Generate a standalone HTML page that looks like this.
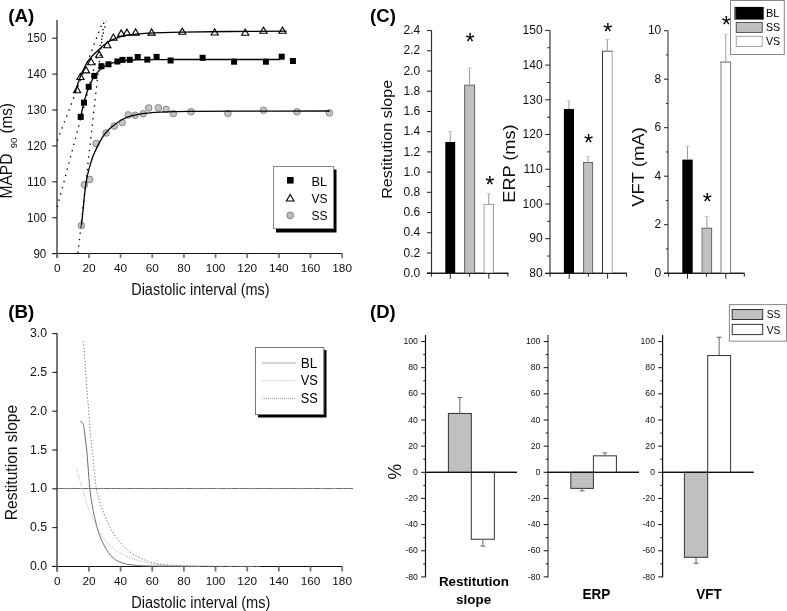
<!DOCTYPE html>
<html><head><meta charset="utf-8"><style>
html,body{margin:0;padding:0;background:#fff;}
svg{display:block;font-family:"Liberation Sans", sans-serif;will-change:transform;}
</style></head><body>
<svg width="787" height="611" viewBox="0 0 787 611">
<rect x="0" y="0" width="787" height="611" fill="#fff"/>
<text x="8.3" y="21.8" font-size="17.6" text-anchor="start" fill="#000" font-weight="bold" textLength="26" lengthAdjust="spacingAndGlyphs" >(A)</text>
<line x1="57" y1="20" x2="57" y2="258" stroke="#777" stroke-width="2" />
<line x1="52.3" y1="253.6" x2="57" y2="253.6" stroke="#222" stroke-width="1.1" />
<text x="46.3" y="257.5" font-size="12.4" text-anchor="end" fill="#111" textLength="12.9" lengthAdjust="spacingAndGlyphs" >90</text>
<line x1="52.3" y1="217.7" x2="57" y2="217.7" stroke="#222" stroke-width="1.1" />
<text x="46.3" y="221.6" font-size="12.4" text-anchor="end" fill="#111" textLength="19.2" lengthAdjust="spacingAndGlyphs" >100</text>
<line x1="52.3" y1="181.8" x2="57" y2="181.8" stroke="#222" stroke-width="1.1" />
<text x="46.3" y="185.7" font-size="12.4" text-anchor="end" fill="#111" textLength="19.2" lengthAdjust="spacingAndGlyphs" >110</text>
<line x1="52.3" y1="145.9" x2="57" y2="145.9" stroke="#222" stroke-width="1.1" />
<text x="46.3" y="149.8" font-size="12.4" text-anchor="end" fill="#111" textLength="19.2" lengthAdjust="spacingAndGlyphs" >120</text>
<line x1="52.3" y1="110" x2="57" y2="110" stroke="#222" stroke-width="1.1" />
<text x="46.3" y="113.9" font-size="12.4" text-anchor="end" fill="#111" textLength="19.2" lengthAdjust="spacingAndGlyphs" >130</text>
<line x1="52.3" y1="74.1" x2="57" y2="74.1" stroke="#222" stroke-width="1.1" />
<text x="46.3" y="78" font-size="12.4" text-anchor="end" fill="#111" textLength="19.2" lengthAdjust="spacingAndGlyphs" >140</text>
<line x1="52.3" y1="38.2" x2="57" y2="38.2" stroke="#222" stroke-width="1.1" />
<text x="46.3" y="42.1" font-size="12.4" text-anchor="end" fill="#111" textLength="19.2" lengthAdjust="spacingAndGlyphs" >150</text>
<line x1="52.3" y1="253.5" x2="342.3" y2="253.5" stroke="#111" stroke-width="1.1" />
<line x1="57.3" y1="253.5" x2="57.3" y2="258" stroke="#777" stroke-width="1.8" />
<text x="57.3" y="272.4" font-size="11.8" text-anchor="middle" fill="#111" >0</text>
<line x1="88.95" y1="253.5" x2="88.95" y2="258" stroke="#777" stroke-width="1.8" />
<text x="88.95" y="272.4" font-size="11.8" text-anchor="middle" fill="#111" >20</text>
<line x1="120.6" y1="253.5" x2="120.6" y2="258" stroke="#777" stroke-width="1.8" />
<text x="120.6" y="272.4" font-size="11.8" text-anchor="middle" fill="#111" >40</text>
<line x1="152.25" y1="253.5" x2="152.25" y2="258" stroke="#777" stroke-width="1.8" />
<text x="152.25" y="272.4" font-size="11.8" text-anchor="middle" fill="#111" >60</text>
<line x1="183.9" y1="253.5" x2="183.9" y2="258" stroke="#777" stroke-width="1.8" />
<text x="183.9" y="272.4" font-size="11.8" text-anchor="middle" fill="#111" >80</text>
<line x1="215.55" y1="253.5" x2="215.55" y2="258" stroke="#777" stroke-width="1.8" />
<text x="215.55" y="272.4" font-size="11.8" text-anchor="middle" fill="#111" >100</text>
<line x1="247.2" y1="253.5" x2="247.2" y2="258" stroke="#777" stroke-width="1.8" />
<text x="247.2" y="272.4" font-size="11.8" text-anchor="middle" fill="#111" >120</text>
<line x1="278.85" y1="253.5" x2="278.85" y2="258" stroke="#777" stroke-width="1.8" />
<text x="278.85" y="272.4" font-size="11.8" text-anchor="middle" fill="#111" >140</text>
<line x1="310.5" y1="253.5" x2="310.5" y2="258" stroke="#777" stroke-width="1.8" />
<text x="310.5" y="272.4" font-size="11.8" text-anchor="middle" fill="#111" >160</text>
<line x1="342.15" y1="253.5" x2="342.15" y2="258" stroke="#777" stroke-width="1.8" />
<text x="342.15" y="272.4" font-size="11.8" text-anchor="middle" fill="#111" >180</text>
<text x="131.2" y="294.6" font-size="16" text-anchor="start" fill="#111" textLength="138.4" lengthAdjust="spacingAndGlyphs" >Diastolic interval (ms)</text>
<text transform="translate(12,198.6) rotate(-90)" x="0" y="0" font-size="16" text-anchor="start" fill="#111" textLength="45.2" lengthAdjust="spacingAndGlyphs" >MAPD</text>
<text transform="translate(17,148.2) rotate(-90)" x="0" y="0" font-size="9.5" text-anchor="start" fill="#111" >90</text>
<text transform="translate(12,133.6) rotate(-90)" x="0" y="0" font-size="16" text-anchor="start" fill="#111" textLength="30.5" lengthAdjust="spacingAndGlyphs" >(ms)</text>
<circle cx="81.4" cy="225.6" r="3.3" fill="#c4c4c4" stroke="#808080" stroke-width="0.9"/>
<circle cx="84.4" cy="184.7" r="3.3" fill="#c4c4c4" stroke="#808080" stroke-width="0.9"/>
<circle cx="89.7" cy="179.4" r="3.3" fill="#c4c4c4" stroke="#808080" stroke-width="0.9"/>
<circle cx="96.2" cy="143.5" r="3.3" fill="#c4c4c4" stroke="#808080" stroke-width="0.9"/>
<circle cx="106.1" cy="133" r="3.3" fill="#c4c4c4" stroke="#808080" stroke-width="0.9"/>
<circle cx="114.3" cy="126.1" r="3.3" fill="#c4c4c4" stroke="#808080" stroke-width="0.9"/>
<circle cx="122.1" cy="122.6" r="3.3" fill="#c4c4c4" stroke="#808080" stroke-width="0.9"/>
<circle cx="128.3" cy="114.9" r="3.3" fill="#c4c4c4" stroke="#808080" stroke-width="0.9"/>
<circle cx="135.2" cy="115.3" r="3.3" fill="#c4c4c4" stroke="#808080" stroke-width="0.9"/>
<circle cx="143.2" cy="113.7" r="3.3" fill="#c4c4c4" stroke="#808080" stroke-width="0.9"/>
<circle cx="148.7" cy="108" r="3.3" fill="#c4c4c4" stroke="#808080" stroke-width="0.9"/>
<circle cx="158.4" cy="107.8" r="3.3" fill="#c4c4c4" stroke="#808080" stroke-width="0.9"/>
<circle cx="166.2" cy="109.4" r="3.3" fill="#c4c4c4" stroke="#808080" stroke-width="0.9"/>
<circle cx="173.3" cy="113.6" r="3.3" fill="#c4c4c4" stroke="#808080" stroke-width="0.9"/>
<circle cx="191" cy="111.8" r="3.3" fill="#c4c4c4" stroke="#808080" stroke-width="0.9"/>
<circle cx="227.9" cy="113.5" r="3.3" fill="#c4c4c4" stroke="#808080" stroke-width="0.9"/>
<circle cx="263.5" cy="110.3" r="3.3" fill="#c4c4c4" stroke="#808080" stroke-width="0.9"/>
<circle cx="297" cy="111.8" r="3.3" fill="#c4c4c4" stroke="#808080" stroke-width="0.9"/>
<circle cx="329.4" cy="112.9" r="3.3" fill="#c4c4c4" stroke="#808080" stroke-width="0.9"/>
<rect x="77.7" y="113.9" width="6" height="6" fill="#000" stroke="none" stroke-width="1" />
<rect x="81" y="99.6" width="6" height="6" fill="#000" stroke="none" stroke-width="1" />
<rect x="85.7" y="83.8" width="6" height="6" fill="#000" stroke="none" stroke-width="1" />
<rect x="91.4" y="72.9" width="6" height="6" fill="#000" stroke="none" stroke-width="1" />
<rect x="98.5" y="63.2" width="6" height="6" fill="#000" stroke="none" stroke-width="1" />
<rect x="105.5" y="61.3" width="6" height="6" fill="#000" stroke="none" stroke-width="1" />
<rect x="114.4" y="58.5" width="6" height="6" fill="#000" stroke="none" stroke-width="1" />
<rect x="119.5" y="56.9" width="6" height="6" fill="#000" stroke="none" stroke-width="1" />
<rect x="126.7" y="56.8" width="6" height="6" fill="#000" stroke="none" stroke-width="1" />
<rect x="134.7" y="54" width="6" height="6" fill="#000" stroke="none" stroke-width="1" />
<rect x="144.3" y="56.6" width="6" height="6" fill="#000" stroke="none" stroke-width="1" />
<rect x="153.6" y="53.9" width="6" height="6" fill="#000" stroke="none" stroke-width="1" />
<rect x="167.6" y="57.5" width="6" height="6" fill="#000" stroke="none" stroke-width="1" />
<rect x="199.6" y="54.8" width="6" height="6" fill="#000" stroke="none" stroke-width="1" />
<rect x="231.1" y="58.7" width="6" height="6" fill="#000" stroke="none" stroke-width="1" />
<rect x="262.9" y="58.7" width="6" height="6" fill="#000" stroke="none" stroke-width="1" />
<rect x="278.7" y="53.7" width="6" height="6" fill="#000" stroke="none" stroke-width="1" />
<rect x="289.9" y="58" width="6" height="6" fill="#000" stroke="none" stroke-width="1" />
<path d="M77.1,86.5 L80.7,92.7 L73.5,92.7 Z" fill="none" stroke="#000" stroke-width="1.1" stroke-linejoin="miter"/>
<path d="M80.4,73.3 L84,79.5 L76.8,79.5 Z" fill="none" stroke="#000" stroke-width="1.1" stroke-linejoin="miter"/>
<path d="M86.1,66.7 L89.7,72.9 L82.5,72.9 Z" fill="none" stroke="#000" stroke-width="1.1" stroke-linejoin="miter"/>
<path d="M91.2,58.5 L94.8,64.7 L87.6,64.7 Z" fill="none" stroke="#000" stroke-width="1.1" stroke-linejoin="miter"/>
<path d="M99.2,51.1 L102.8,57.3 L95.6,57.3 Z" fill="none" stroke="#000" stroke-width="1.1" stroke-linejoin="miter"/>
<path d="M107.3,41.5 L110.9,47.7 L103.7,47.7 Z" fill="none" stroke="#000" stroke-width="1.1" stroke-linejoin="miter"/>
<path d="M113.4,34 L117,40.2 L109.8,40.2 Z" fill="none" stroke="#000" stroke-width="1.1" stroke-linejoin="miter"/>
<path d="M121.2,29.9 L124.8,36.1 L117.6,36.1 Z" fill="none" stroke="#000" stroke-width="1.1" stroke-linejoin="miter"/>
<path d="M126.9,29.1 L130.5,35.3 L123.3,35.3 Z" fill="none" stroke="#000" stroke-width="1.1" stroke-linejoin="miter"/>
<path d="M135.6,28.9 L139.2,35.1 L132,35.1 Z" fill="none" stroke="#000" stroke-width="1.1" stroke-linejoin="miter"/>
<path d="M151.6,28.9 L155.2,35.1 L148,35.1 Z" fill="none" stroke="#000" stroke-width="1.1" stroke-linejoin="miter"/>
<path d="M182.3,28.1 L185.9,34.3 L178.7,34.3 Z" fill="none" stroke="#000" stroke-width="1.1" stroke-linejoin="miter"/>
<path d="M214.7,28.8 L218.3,35 L211.1,35 Z" fill="none" stroke="#000" stroke-width="1.1" stroke-linejoin="miter"/>
<path d="M245.2,29 L248.8,35.2 L241.6,35.2 Z" fill="none" stroke="#000" stroke-width="1.1" stroke-linejoin="miter"/>
<path d="M263.5,27.1 L267.1,33.3 L259.9,33.3 Z" fill="none" stroke="#000" stroke-width="1.1" stroke-linejoin="miter"/>
<path d="M282.5,27.1 L286.1,33.3 L278.9,33.3 Z" fill="none" stroke="#000" stroke-width="1.1" stroke-linejoin="miter"/>
<line x1="57.3" y1="140.5" x2="103.2" y2="20.8" stroke="#000" stroke-width="1.3" stroke-dasharray="1.4 5" stroke-linecap="butt"/>
<line x1="57.3" y1="207" x2="106.5" y2="21" stroke="#000" stroke-width="1.3" stroke-dasharray="1.4 5" stroke-linecap="butt"/>
<line x1="77.9" y1="253" x2="104" y2="21" stroke="#000" stroke-width="1.3" stroke-dasharray="1.4 5" stroke-linecap="butt"/>
<path d="M80.7,116.9 L80.88,115.99 L81.25,114.17 L81.74,111.79 L82.35,109.02 L83.06,105.98 L83.86,102.78 L84.75,99.49 L85.71,96.19 L86.75,92.94 L87.86,89.78 L89.04,86.76 L90.29,83.89 L91.6,81.2 L92.97,78.69 L94.4,76.39 L95.89,74.29 L97.44,72.38 L99.04,70.66 L100.7,69.13 L102.41,67.76 L104.17,66.56 L105.99,65.5 L107.85,64.58 L109.76,63.79 L111.72,63.1 L113.73,62.51 L115.79,62 L117.89,61.57 L120.04,61.21 L122.23,60.91 L124.47,60.65 L126.75,60.44 L129.08,60.26 L131.44,60.12 L133.85,60 L136.3,59.9 L138.79,59.82 L141.33,59.76 L143.9,59.7 L146.51,59.66 L149.16,59.63 L151.85,59.6 L154.58,59.58 L157.35,59.56 L160.16,59.55 L163,59.54 L165.88,59.53 L168.8,59.52 L171.76,59.52 L174.75,59.51 L177.78,59.51 L180.84,59.51 L183.94,59.51 L187.07,59.5 L190.24,59.5 L193.45,59.5 L196.68,59.5 L199.96,59.5 L203.26,59.5 L206.6,59.5 L209.98,59.5 L213.39,59.5 L216.83,59.5 L220.3,59.5 L223.81,59.5 L227.35,59.5 L230.92,59.5 L234.52,59.5 L238.16,59.5 L241.82,59.5 L245.52,59.5 L249.25,59.5 L253.01,59.5 L256.8,59.5 L260.63,59.5 L264.48,59.5 L268.37,59.5 L272.28,59.5 L276.22,59.5 L280.2,59.5" fill="none" stroke="#000" stroke-width="1.3"/>
<path d="M74.8,93 C75.28,91.58 76.77,87.25 77.7,84.5 C78.63,81.75 79.28,79.33 80.4,76.5 C81.52,73.67 83.13,70.05 84.4,67.5 C85.67,64.95 86.8,63 88,61.2 C89.2,59.4 90.25,58.2 91.6,56.7 C92.95,55.2 94.5,53.75 96.1,52.2 C97.7,50.65 99.53,48.85 101.2,47.4 C102.87,45.95 104.48,44.67 106.1,43.5 C107.72,42.33 108.83,41.43 110.9,40.4 C112.97,39.37 115.97,38.13 118.5,37.3 C121.03,36.47 123.57,35.9 126.1,35.4 C128.63,34.9 130.05,34.68 133.7,34.3 C137.35,33.92 139.95,33.47 148,33.1 C156.05,32.73 168.33,32.37 182,32.1 C195.67,31.83 212.57,31.65 230,31.5 C247.43,31.35 277.17,31.25 286.6,31.2" fill="none" stroke="#000" stroke-width="1.3"/>
<path d="M81.4,225.6 C81.72,222.6 82.72,213.28 83.3,207.6 C83.88,201.92 84.35,196.18 84.9,191.5 C85.45,186.82 85.9,183.3 86.6,179.5 C87.3,175.7 88.1,172.4 89.1,168.7 C90.1,165 91.25,160.93 92.6,157.3 C93.95,153.67 95.48,150.35 97.2,146.9 C98.92,143.45 101,139.45 102.9,136.6 C104.8,133.75 106.5,131.9 108.6,129.8 C110.7,127.7 113.2,125.72 115.5,124 C117.8,122.28 119.92,120.8 122.4,119.5 C124.88,118.2 127.73,117.07 130.4,116.2 C133.07,115.33 135.55,114.82 138.4,114.3 C141.25,113.78 143.9,113.47 147.5,113.1 C151.1,112.73 152.92,112.4 160,112.1 C167.08,111.8 176.67,111.47 190,111.3 C203.33,111.13 216.7,111.15 240,111.1 C263.3,111.05 314.83,111.02 329.8,111" fill="none" stroke="#000" stroke-width="1.3"/>
<rect x="276" y="169.5" width="60.5" height="63" fill="#000" stroke="none" stroke-width="1" />
<rect x="273.5" y="166.5" width="60" height="62" fill="#fff" stroke="#8a8a8a" stroke-width="1" />
<rect x="287" y="177" width="6.6" height="6.6" fill="#000" stroke="none" stroke-width="1" />
<path d="M290.2,194.4 L294,201 L286.4,201 Z" fill="#fff" stroke="#000" stroke-width="1.1" stroke-linejoin="miter"/>
<circle cx="290.2" cy="215.4" r="3.4" fill="#bdbdbd" stroke="#7a7a7a" stroke-width="0.9"/>
<text x="311.6" y="185.5" font-size="13" text-anchor="start" fill="#000" textLength="15.5" lengthAdjust="spacingAndGlyphs" >BL</text>
<text x="311.6" y="202.9" font-size="13" text-anchor="start" fill="#000" textLength="16" lengthAdjust="spacingAndGlyphs" >VS</text>
<text x="311.6" y="220.1" font-size="13" text-anchor="start" fill="#000" textLength="16" lengthAdjust="spacingAndGlyphs" >SS</text>
<text x="8.3" y="317.7" font-size="18.3" text-anchor="start" fill="#000" font-weight="bold" textLength="26" lengthAdjust="spacingAndGlyphs" >(B)</text>
<line x1="57" y1="333.5" x2="57" y2="571.5" stroke="#777" stroke-width="2" />
<line x1="52.3" y1="566.4" x2="57.3" y2="566.4" stroke="#222" stroke-width="1.1" />
<text x="47" y="570" font-size="12.3" text-anchor="end" fill="#111" >0.0</text>
<line x1="52.3" y1="527.6" x2="57.3" y2="527.6" stroke="#222" stroke-width="1.1" />
<text x="47" y="531.2" font-size="12.3" text-anchor="end" fill="#111" >0.5</text>
<line x1="52.3" y1="488.8" x2="57.3" y2="488.8" stroke="#222" stroke-width="1.1" />
<text x="47" y="492.4" font-size="12.3" text-anchor="end" fill="#111" >1.0</text>
<line x1="52.3" y1="450" x2="57.3" y2="450" stroke="#222" stroke-width="1.1" />
<text x="47" y="453.6" font-size="12.3" text-anchor="end" fill="#111" >1.5</text>
<line x1="52.3" y1="411.2" x2="57.3" y2="411.2" stroke="#222" stroke-width="1.1" />
<text x="47" y="414.8" font-size="12.3" text-anchor="end" fill="#111" >2.0</text>
<line x1="52.3" y1="372.4" x2="57.3" y2="372.4" stroke="#222" stroke-width="1.1" />
<text x="47" y="376" font-size="12.3" text-anchor="end" fill="#111" >2.5</text>
<line x1="52.3" y1="333.6" x2="57.3" y2="333.6" stroke="#222" stroke-width="1.1" />
<text x="47" y="337.2" font-size="12.3" text-anchor="end" fill="#111" >3.0</text>
<line x1="52.3" y1="566.5" x2="342.3" y2="566.5" stroke="#111" stroke-width="1.1" />
<line x1="57.3" y1="566.5" x2="57.3" y2="571.5" stroke="#777" stroke-width="1.8" />
<text x="57.3" y="585" font-size="11.8" text-anchor="middle" fill="#111" >0</text>
<line x1="88.95" y1="566.5" x2="88.95" y2="571.5" stroke="#777" stroke-width="1.8" />
<text x="88.95" y="585" font-size="11.8" text-anchor="middle" fill="#111" >20</text>
<line x1="120.6" y1="566.5" x2="120.6" y2="571.5" stroke="#777" stroke-width="1.8" />
<text x="120.6" y="585" font-size="11.8" text-anchor="middle" fill="#111" >40</text>
<line x1="152.25" y1="566.5" x2="152.25" y2="571.5" stroke="#777" stroke-width="1.8" />
<text x="152.25" y="585" font-size="11.8" text-anchor="middle" fill="#111" >60</text>
<line x1="183.9" y1="566.5" x2="183.9" y2="571.5" stroke="#777" stroke-width="1.8" />
<text x="183.9" y="585" font-size="11.8" text-anchor="middle" fill="#111" >80</text>
<line x1="215.55" y1="566.5" x2="215.55" y2="571.5" stroke="#777" stroke-width="1.8" />
<text x="215.55" y="585" font-size="11.8" text-anchor="middle" fill="#111" >100</text>
<line x1="247.2" y1="566.5" x2="247.2" y2="571.5" stroke="#777" stroke-width="1.8" />
<text x="247.2" y="585" font-size="11.8" text-anchor="middle" fill="#111" >120</text>
<line x1="278.85" y1="566.5" x2="278.85" y2="571.5" stroke="#777" stroke-width="1.8" />
<text x="278.85" y="585" font-size="11.8" text-anchor="middle" fill="#111" >140</text>
<line x1="310.5" y1="566.5" x2="310.5" y2="571.5" stroke="#777" stroke-width="1.8" />
<text x="310.5" y="585" font-size="11.8" text-anchor="middle" fill="#111" >160</text>
<line x1="342.15" y1="566.5" x2="342.15" y2="571.5" stroke="#777" stroke-width="1.8" />
<text x="342.15" y="585" font-size="11.8" text-anchor="middle" fill="#111" >180</text>
<text x="131.2" y="607.6" font-size="16" text-anchor="start" fill="#111" textLength="139.2" lengthAdjust="spacingAndGlyphs" >Diastolic interval (ms)</text>
<text transform="translate(16.9,520.3) rotate(-90)" x="0" y="0" font-size="16" text-anchor="start" fill="#111" textLength="115.5" lengthAdjust="spacingAndGlyphs" >Restitution slope</text>
<line x1="57.3" y1="488.5" x2="353" y2="488.5" stroke="#727272" stroke-width="1.1" stroke-dasharray="8 0.3 3 0.3"/>
<path d="M80.3,421.1 C80.58,421.32 81.47,421.72 82,422.4 C82.53,423.08 83.07,423.6 83.5,425.2 C83.93,426.8 84.27,429.53 84.6,432 C84.93,434.47 85.15,437 85.5,440 C85.85,443 86.28,445.67 86.7,450 C87.12,454.33 87.48,459.58 88,466 C88.52,472.42 89.17,482.33 89.8,488.5 C90.43,494.67 91.1,498.67 91.8,503 C92.5,507.33 92.92,509.75 94,514.5 C95.08,519.25 96.52,526.18 98.3,531.5 C100.08,536.82 102.22,541.98 104.7,546.4 C107.18,550.82 110.02,555.17 113.2,558 C116.38,560.83 120.17,562.2 123.8,563.4 C127.43,564.6 130.63,564.77 135,565.2 C139.37,565.63 139.17,565.8 150,566 C160.83,566.2 191.67,566.33 200,566.4" fill="none" stroke="#6e6e6e" stroke-width="1"/>
<path d="M76.4,468.8 C76.87,470.42 78.22,475.22 79.2,478.5 C80.18,481.78 81.2,484.83 82.3,488.5 C83.4,492.17 84.55,496.53 85.8,500.5 C87.05,504.47 87.72,507.48 89.8,512.3 C91.88,517.12 95.1,524.07 98.3,529.4 C101.5,534.73 104.75,540.03 109,544.3 C113.25,548.57 117.8,552 123.8,555 C129.8,558 137.9,560.63 145,562.3 C152.1,563.97 157.23,564.35 166.4,565 C175.57,565.65 184.4,565.97 200,566.2 C215.6,566.43 250,566.37 260,566.4" fill="none" stroke="#b0b0b0" stroke-width="1" stroke-dasharray="1 1.5"/>
<path d="M83.4,341.2 C83.67,344.5 84.45,353.6 85,361 C85.55,368.4 86.02,376.37 86.7,385.6 C87.38,394.83 88.38,407.33 89.1,416.4 C89.82,425.47 90.25,432.18 91,440 C91.75,447.82 92.72,455.22 93.6,463.3 C94.48,471.38 95.32,482.3 96.3,488.5 C97.28,494.7 98.45,496.88 99.5,500.5 C100.55,504.12 100.68,505.38 102.6,510.2 C104.52,515.02 107.82,523.72 111,529.4 C114.18,535.08 117.78,540.03 121.7,544.3 C125.62,548.57 129.53,552 134.5,555 C139.47,558 145.48,560.58 151.5,562.3 C157.52,564.02 162.52,564.67 170.6,565.3 C178.68,565.93 185.1,565.92 200,566.1 C214.9,566.28 250,566.35 260,566.4" fill="none" stroke="#7a7a7a" stroke-width="1" stroke-dasharray="1.3 2"/>
<rect x="258" y="350" width="68.5" height="67.5" fill="#000" stroke="none" stroke-width="1" />
<rect x="255.5" y="347.5" width="68.3" height="67" fill="#fff" stroke="#777" stroke-width="1" />
<line x1="262" y1="363" x2="295.8" y2="363" stroke="#aaa" stroke-width="1.2" />
<line x1="262" y1="380.7" x2="295.8" y2="380.7" stroke="#c8c8c8" stroke-width="1" stroke-dasharray="1.6 1"/>
<line x1="262" y1="398.3" x2="295.8" y2="398.3" stroke="#999" stroke-width="1" stroke-dasharray="1 1"/>
<text x="300.7" y="367.7" font-size="14" text-anchor="start" fill="#000" textLength="16.5" lengthAdjust="spacingAndGlyphs" >BL</text>
<text x="300.7" y="385" font-size="14" text-anchor="start" fill="#000" textLength="17" lengthAdjust="spacingAndGlyphs" >VS</text>
<text x="300.7" y="402.8" font-size="14" text-anchor="start" fill="#000" textLength="17" lengthAdjust="spacingAndGlyphs" >SS</text>
<text x="370.1" y="22.4" font-size="18.3" text-anchor="start" fill="#000" font-weight="bold" textLength="25.8" lengthAdjust="spacingAndGlyphs" >(C)</text>
<line x1="431.5" y1="30.3" x2="431.5" y2="273.3" stroke="#333" stroke-width="1.2" />
<line x1="427" y1="273.2" x2="431.5" y2="273.2" stroke="#222" stroke-width="1" />
<text x="420.2" y="276.9" font-size="12" text-anchor="end" fill="#111" >0.0</text>
<line x1="427" y1="252.98" x2="431.5" y2="252.98" stroke="#222" stroke-width="1" />
<text x="420.2" y="256.68" font-size="12" text-anchor="end" fill="#111" >0.2</text>
<line x1="427" y1="232.76" x2="431.5" y2="232.76" stroke="#222" stroke-width="1" />
<text x="420.2" y="236.46" font-size="12" text-anchor="end" fill="#111" >0.4</text>
<line x1="427" y1="212.54" x2="431.5" y2="212.54" stroke="#222" stroke-width="1" />
<text x="420.2" y="216.24" font-size="12" text-anchor="end" fill="#111" >0.6</text>
<line x1="427" y1="192.32" x2="431.5" y2="192.32" stroke="#222" stroke-width="1" />
<text x="420.2" y="196.02" font-size="12" text-anchor="end" fill="#111" >0.8</text>
<line x1="427" y1="172.1" x2="431.5" y2="172.1" stroke="#222" stroke-width="1" />
<text x="420.2" y="175.8" font-size="12" text-anchor="end" fill="#111" >1.0</text>
<line x1="427" y1="151.88" x2="431.5" y2="151.88" stroke="#222" stroke-width="1" />
<text x="420.2" y="155.58" font-size="12" text-anchor="end" fill="#111" >1.2</text>
<line x1="427" y1="131.66" x2="431.5" y2="131.66" stroke="#222" stroke-width="1" />
<text x="420.2" y="135.36" font-size="12" text-anchor="end" fill="#111" >1.4</text>
<line x1="427" y1="111.44" x2="431.5" y2="111.44" stroke="#222" stroke-width="1" />
<text x="420.2" y="115.14" font-size="12" text-anchor="end" fill="#111" >1.6</text>
<line x1="427" y1="91.22" x2="431.5" y2="91.22" stroke="#222" stroke-width="1" />
<text x="420.2" y="94.92" font-size="12" text-anchor="end" fill="#111" >1.8</text>
<line x1="427" y1="71" x2="431.5" y2="71" stroke="#222" stroke-width="1" />
<text x="420.2" y="74.7" font-size="12" text-anchor="end" fill="#111" >2.0</text>
<line x1="427" y1="50.78" x2="431.5" y2="50.78" stroke="#222" stroke-width="1" />
<text x="420.2" y="54.48" font-size="12" text-anchor="end" fill="#111" >2.2</text>
<line x1="427" y1="30.56" x2="431.5" y2="30.56" stroke="#222" stroke-width="1" />
<text x="420.2" y="34.26" font-size="12" text-anchor="end" fill="#111" >2.4</text>
<line x1="427" y1="273.3" x2="508.3" y2="273.3" stroke="#111" stroke-width="1.1" />
<line x1="431.4" y1="273.3" x2="431.4" y2="276.7" stroke="#222" stroke-width="1" />
<line x1="450.3" y1="273.3" x2="450.3" y2="278.8" stroke="#222" stroke-width="1" />
<line x1="469.4" y1="273.3" x2="469.4" y2="276.7" stroke="#222" stroke-width="1" />
<line x1="488.8" y1="273.3" x2="488.8" y2="278.8" stroke="#222" stroke-width="1" />
<line x1="507.9" y1="273.3" x2="507.9" y2="276.7" stroke="#222" stroke-width="1" />
<rect x="445.3" y="142" width="9.9" height="131.3" fill="#000" stroke="none" stroke-width="1" />
<line x1="450.25" y1="142" x2="450.25" y2="131.6" stroke="#999" stroke-width="1" />
<line x1="447.95" y1="131.6" x2="452.55" y2="131.6" stroke="#ccc" stroke-width="1" />
<rect x="464.6" y="85.15" width="10" height="188.15" fill="#c0c0c0" stroke="none" stroke-width="1" />
<line x1="464.6" y1="85.15" x2="464.6" y2="273.3" stroke="#666" stroke-width="1" />
<line x1="474.6" y1="85.15" x2="474.6" y2="273.3" stroke="#666" stroke-width="1" />
<line x1="464.1" y1="85.15" x2="475.1" y2="85.15" stroke="#666" stroke-width="1" />
<line x1="469.6" y1="85.15" x2="469.6" y2="67.97" stroke="#999" stroke-width="1" />
<line x1="467.3" y1="67.97" x2="471.9" y2="67.97" stroke="#ccc" stroke-width="1" />
<rect x="484.1" y="204.4" width="9.3" height="68.9" fill="#fff" stroke="none" stroke-width="1" />
<line x1="484.1" y1="204.4" x2="484.1" y2="273.3" stroke="#a0a0a0" stroke-width="1" />
<line x1="493.4" y1="204.4" x2="493.4" y2="273.3" stroke="#999" stroke-width="1" />
<line x1="483.6" y1="204.4" x2="493.9" y2="204.4" stroke="#999" stroke-width="1" />
<line x1="488.75" y1="204.4" x2="488.75" y2="193.33" stroke="#999" stroke-width="1" />
<line x1="486.45" y1="193.33" x2="491.05" y2="193.33" stroke="#ccc" stroke-width="1" />
<text x="470.05" y="49.97" font-size="23.5" text-anchor="middle" fill="#000" >*</text>
<text x="489.8" y="192.82" font-size="23.5" text-anchor="middle" fill="#000" >*</text>
<text transform="translate(392.2,198.8) rotate(-90)" x="0" y="0" font-size="15.5" text-anchor="start" fill="#111" textLength="119" lengthAdjust="spacingAndGlyphs" >Restitution slope</text>
<line x1="550" y1="30.4" x2="550" y2="273.3" stroke="#888" stroke-width="2" />
<line x1="545.2" y1="273.4" x2="550" y2="273.4" stroke="#222" stroke-width="1" />
<text x="542.6" y="277.1" font-size="12" text-anchor="end" fill="#111" >80</text>
<line x1="545.2" y1="238.68" x2="550" y2="238.68" stroke="#222" stroke-width="1" />
<text x="542.6" y="242.38" font-size="12" text-anchor="end" fill="#111" >90</text>
<line x1="545.2" y1="203.97" x2="550" y2="203.97" stroke="#222" stroke-width="1" />
<text x="542.6" y="207.67" font-size="12" text-anchor="end" fill="#111" >100</text>
<line x1="545.2" y1="169.26" x2="550" y2="169.26" stroke="#222" stroke-width="1" />
<text x="542.6" y="172.96" font-size="12" text-anchor="end" fill="#111" >110</text>
<line x1="545.2" y1="134.54" x2="550" y2="134.54" stroke="#222" stroke-width="1" />
<text x="542.6" y="138.24" font-size="12" text-anchor="end" fill="#111" >120</text>
<line x1="545.2" y1="99.83" x2="550" y2="99.83" stroke="#222" stroke-width="1" />
<text x="542.6" y="103.53" font-size="12" text-anchor="end" fill="#111" >130</text>
<line x1="545.2" y1="65.11" x2="550" y2="65.11" stroke="#222" stroke-width="1" />
<text x="542.6" y="68.81" font-size="12" text-anchor="end" fill="#111" >140</text>
<line x1="545.2" y1="30.4" x2="550" y2="30.4" stroke="#222" stroke-width="1" />
<text x="542.6" y="34.1" font-size="12" text-anchor="end" fill="#111" >150</text>
<line x1="547.2" y1="256.04" x2="550" y2="256.04" stroke="#222" stroke-width="1" />
<line x1="547.2" y1="221.33" x2="550" y2="221.33" stroke="#222" stroke-width="1" />
<line x1="547.2" y1="186.61" x2="550" y2="186.61" stroke="#222" stroke-width="1" />
<line x1="547.2" y1="151.9" x2="550" y2="151.9" stroke="#222" stroke-width="1" />
<line x1="547.2" y1="117.19" x2="550" y2="117.19" stroke="#222" stroke-width="1" />
<line x1="547.2" y1="82.47" x2="550" y2="82.47" stroke="#222" stroke-width="1" />
<line x1="547.2" y1="47.76" x2="550" y2="47.76" stroke="#222" stroke-width="1" />
<line x1="550" y1="273.3" x2="626.8" y2="273.3" stroke="#111" stroke-width="1.1" />
<line x1="550" y1="273.3" x2="550" y2="276.7" stroke="#222" stroke-width="1" />
<line x1="569.2" y1="273.3" x2="569.2" y2="278.8" stroke="#222" stroke-width="1" />
<line x1="588.4" y1="273.3" x2="588.4" y2="276.7" stroke="#222" stroke-width="1" />
<line x1="607.6" y1="273.3" x2="607.6" y2="278.8" stroke="#222" stroke-width="1" />
<line x1="626.6" y1="273.3" x2="626.6" y2="276.7" stroke="#222" stroke-width="1" />
<rect x="563.9" y="109" width="10.1" height="164.3" fill="#000" stroke="none" stroke-width="1" />
<line x1="568.95" y1="109" x2="568.95" y2="100.87" stroke="#999" stroke-width="1" />
<line x1="566.65" y1="100.87" x2="571.25" y2="100.87" stroke="#ccc" stroke-width="1" />
<rect x="583.6" y="162.5" width="9" height="110.8" fill="#c0c0c0" stroke="none" stroke-width="1" />
<line x1="583.6" y1="162.5" x2="583.6" y2="273.3" stroke="#666" stroke-width="1" />
<line x1="592.6" y1="162.5" x2="592.6" y2="273.3" stroke="#666" stroke-width="1" />
<line x1="583.1" y1="162.5" x2="593.1" y2="162.5" stroke="#666" stroke-width="1" />
<line x1="588.1" y1="162.5" x2="588.1" y2="156.41" stroke="#999" stroke-width="1" />
<line x1="585.8" y1="156.41" x2="590.4" y2="156.41" stroke="#ccc" stroke-width="1" />
<rect x="602.5" y="51.2" width="9.7" height="222.1" fill="#fff" stroke="none" stroke-width="1" />
<line x1="602.5" y1="51.2" x2="602.5" y2="273.3" stroke="#333" stroke-width="1" />
<line x1="612.2" y1="51.2" x2="612.2" y2="273.3" stroke="#aaa" stroke-width="1" />
<line x1="602" y1="51.2" x2="612.7" y2="51.2" stroke="#555" stroke-width="1" />
<line x1="607.35" y1="51.2" x2="607.35" y2="39.43" stroke="#999" stroke-width="1" />
<line x1="605.05" y1="39.43" x2="609.65" y2="39.43" stroke="#ccc" stroke-width="1" />
<text x="588.7" y="151.22" font-size="23.5" text-anchor="middle" fill="#000" >*</text>
<text x="607.9" y="39.92" font-size="23.5" text-anchor="middle" fill="#000" >*</text>
<text transform="translate(515.2,202.7) rotate(-90)" x="0" y="0" font-size="16" text-anchor="start" fill="#111" textLength="78.3" lengthAdjust="spacingAndGlyphs" >ERP (ms)</text>
<line x1="668" y1="30.4" x2="668" y2="273.3" stroke="#777" stroke-width="1.6" />
<line x1="664" y1="273.2" x2="668" y2="273.2" stroke="#222" stroke-width="1" />
<text x="661.3" y="276.9" font-size="12" text-anchor="end" fill="#111" >0</text>
<line x1="664" y1="224.7" x2="668" y2="224.7" stroke="#222" stroke-width="1" />
<text x="661.3" y="228.4" font-size="12" text-anchor="end" fill="#111" >2</text>
<line x1="664" y1="176.2" x2="668" y2="176.2" stroke="#222" stroke-width="1" />
<text x="661.3" y="179.9" font-size="12" text-anchor="end" fill="#111" >4</text>
<line x1="664" y1="127.7" x2="668" y2="127.7" stroke="#222" stroke-width="1" />
<text x="661.3" y="131.4" font-size="12" text-anchor="end" fill="#111" >6</text>
<line x1="664" y1="79.2" x2="668" y2="79.2" stroke="#222" stroke-width="1" />
<text x="661.3" y="82.9" font-size="12" text-anchor="end" fill="#111" >8</text>
<line x1="664" y1="30.7" x2="668" y2="30.7" stroke="#222" stroke-width="1" />
<text x="661.3" y="34.4" font-size="12" text-anchor="end" fill="#111" >10</text>
<line x1="666" y1="248.95" x2="668" y2="248.95" stroke="#222" stroke-width="1" />
<line x1="666" y1="200.45" x2="668" y2="200.45" stroke="#222" stroke-width="1" />
<line x1="666" y1="151.95" x2="668" y2="151.95" stroke="#222" stroke-width="1" />
<line x1="666" y1="103.45" x2="668" y2="103.45" stroke="#222" stroke-width="1" />
<line x1="666" y1="54.95" x2="668" y2="54.95" stroke="#222" stroke-width="1" />
<line x1="668" y1="273.3" x2="744.5" y2="273.3" stroke="#111" stroke-width="1.1" />
<line x1="668.5" y1="273.3" x2="668.5" y2="276.7" stroke="#222" stroke-width="1" />
<line x1="687.5" y1="273.3" x2="687.5" y2="278.8" stroke="#222" stroke-width="1" />
<line x1="706.6" y1="273.3" x2="706.6" y2="276.7" stroke="#222" stroke-width="1" />
<line x1="725.8" y1="273.3" x2="725.8" y2="278.8" stroke="#222" stroke-width="1" />
<line x1="744.3" y1="273.3" x2="744.3" y2="276.7" stroke="#222" stroke-width="1" />
<rect x="682.3" y="159.6" width="10.4" height="113.7" fill="#000" stroke="none" stroke-width="1" />
<line x1="687.5" y1="159.6" x2="687.5" y2="146.13" stroke="#999" stroke-width="1" />
<line x1="685.2" y1="146.13" x2="689.8" y2="146.13" stroke="#ccc" stroke-width="1" />
<rect x="702.2" y="228.2" width="9.4" height="45.1" fill="#c0c0c0" stroke="none" stroke-width="1" />
<line x1="702.2" y1="228.2" x2="702.2" y2="273.3" stroke="#999" stroke-width="1.6" />
<line x1="711.6" y1="228.2" x2="711.6" y2="273.3" stroke="#666" stroke-width="1" />
<line x1="701.4" y1="228.2" x2="712.1" y2="228.2" stroke="#666" stroke-width="1" />
<line x1="706.9" y1="228.2" x2="706.9" y2="216.45" stroke="#999" stroke-width="1" />
<line x1="704.6" y1="216.45" x2="709.2" y2="216.45" stroke="#ccc" stroke-width="1" />
<rect x="721" y="62.1" width="9.6" height="211.2" fill="#fff" stroke="none" stroke-width="1" />
<line x1="721" y1="62.1" x2="721" y2="273.3" stroke="#b0b0b0" stroke-width="1.6" />
<line x1="730.6" y1="62.1" x2="730.6" y2="273.3" stroke="#777" stroke-width="1" />
<line x1="720.2" y1="62.1" x2="731.1" y2="62.1" stroke="#666" stroke-width="1" />
<line x1="725.8" y1="62.1" x2="725.8" y2="34.34" stroke="#999" stroke-width="1" />
<line x1="723.5" y1="34.34" x2="728.1" y2="34.34" stroke="#ccc" stroke-width="1" />
<text x="707.25" y="210.32" font-size="23.5" text-anchor="middle" fill="#000" >*</text>
<text x="726.25" y="33.47" font-size="23.5" text-anchor="middle" fill="#000" >*</text>
<text transform="translate(644.1,206.8) rotate(-90)" x="0" y="0" font-size="16.5" text-anchor="start" fill="#111" textLength="79.6" lengthAdjust="spacingAndGlyphs" >VFT (mA)</text>
<line x1="427" y1="273.3" x2="508.3" y2="273.3" stroke="#111" stroke-width="1.1" />
<line x1="545.2" y1="273.3" x2="626.8" y2="273.3" stroke="#111" stroke-width="1.1" />
<line x1="664" y1="273.3" x2="744.5" y2="273.3" stroke="#111" stroke-width="1.1" />
<rect x="730.5" y="0.5" width="53.8" height="54" fill="#fff" stroke="#888" stroke-width="1" />
<rect x="734.5" y="6.9" width="29.2" height="12.7" fill="#000" stroke="none" stroke-width="1" />
<rect x="736.2" y="22.4" width="26" height="10" fill="#c0c0c0" stroke="#444" stroke-width="0.9" />
<rect x="736.2" y="36.3" width="26" height="10.1" fill="#fff" stroke="#999" stroke-width="0.9" />
<line x1="735.6" y1="7.5" x2="735.6" y2="19" stroke="#666" stroke-width="0.8" />
<text x="766" y="17" font-size="11" text-anchor="start" fill="#000" textLength="13.4" lengthAdjust="spacingAndGlyphs" >BL</text>
<text x="766" y="31.4" font-size="11" text-anchor="start" fill="#000" textLength="14.2" lengthAdjust="spacingAndGlyphs" >SS</text>
<text x="766" y="45.2" font-size="11" text-anchor="start" fill="#000" textLength="14.2" lengthAdjust="spacingAndGlyphs" >VS</text>
<text x="370.1" y="317.6" font-size="18.3" text-anchor="start" fill="#000" font-weight="bold" textLength="25.6" lengthAdjust="spacingAndGlyphs" >(D)</text>
<line x1="425.5" y1="335" x2="425.5" y2="577.2" stroke="#111" stroke-width="1.2" />
<line x1="421.2" y1="576.9" x2="425.5" y2="576.9" stroke="#111" stroke-width="1" />
<text x="417.9" y="579.5" font-size="8.7" text-anchor="end" fill="#111" >-80</text>
<line x1="421.2" y1="550.75" x2="425.5" y2="550.75" stroke="#111" stroke-width="1" />
<text x="417.9" y="553.35" font-size="8.7" text-anchor="end" fill="#111" >-60</text>
<line x1="421.2" y1="524.6" x2="425.5" y2="524.6" stroke="#111" stroke-width="1" />
<text x="417.9" y="527.2" font-size="8.7" text-anchor="end" fill="#111" >-40</text>
<line x1="421.2" y1="498.45" x2="425.5" y2="498.45" stroke="#111" stroke-width="1" />
<text x="417.9" y="501.05" font-size="8.7" text-anchor="end" fill="#111" >-20</text>
<line x1="421.2" y1="472.3" x2="425.5" y2="472.3" stroke="#111" stroke-width="1" />
<text x="417.9" y="474.9" font-size="8.7" text-anchor="end" fill="#111" >0</text>
<line x1="421.2" y1="446.15" x2="425.5" y2="446.15" stroke="#111" stroke-width="1" />
<text x="417.9" y="448.75" font-size="8.7" text-anchor="end" fill="#111" >20</text>
<line x1="421.2" y1="420" x2="425.5" y2="420" stroke="#111" stroke-width="1" />
<text x="417.9" y="422.6" font-size="8.7" text-anchor="end" fill="#111" >40</text>
<line x1="421.2" y1="393.85" x2="425.5" y2="393.85" stroke="#111" stroke-width="1" />
<text x="417.9" y="396.45" font-size="8.7" text-anchor="end" fill="#111" >60</text>
<line x1="421.2" y1="367.7" x2="425.5" y2="367.7" stroke="#111" stroke-width="1" />
<text x="417.9" y="370.3" font-size="8.7" text-anchor="end" fill="#111" >80</text>
<line x1="421.2" y1="341.55" x2="425.5" y2="341.55" stroke="#111" stroke-width="1" />
<text x="417.9" y="344.15" font-size="8.7" text-anchor="end" fill="#111" >100</text>
<line x1="423.3" y1="563.83" x2="425.5" y2="563.83" stroke="#111" stroke-width="1" />
<line x1="423.3" y1="537.67" x2="425.5" y2="537.67" stroke="#111" stroke-width="1" />
<line x1="423.3" y1="511.53" x2="425.5" y2="511.53" stroke="#111" stroke-width="1" />
<line x1="423.3" y1="485.38" x2="425.5" y2="485.38" stroke="#111" stroke-width="1" />
<line x1="423.3" y1="459.23" x2="425.5" y2="459.23" stroke="#111" stroke-width="1" />
<line x1="423.3" y1="433.07" x2="425.5" y2="433.07" stroke="#111" stroke-width="1" />
<line x1="423.3" y1="406.93" x2="425.5" y2="406.93" stroke="#111" stroke-width="1" />
<line x1="423.3" y1="380.77" x2="425.5" y2="380.77" stroke="#111" stroke-width="1" />
<line x1="423.3" y1="354.62" x2="425.5" y2="354.62" stroke="#111" stroke-width="1" />
<line x1="425.5" y1="472.3" x2="517" y2="472.3" stroke="#111" stroke-width="1.2" />
<rect x="448.4" y="413.46" width="22.9" height="58.84" fill="#c0c0c0" stroke="#333" stroke-width="1" />
<line x1="459.85" y1="413.46" x2="459.85" y2="397.51" stroke="#555" stroke-width="0.9" />
<line x1="457.35" y1="397.51" x2="462.35" y2="397.51" stroke="#555" stroke-width="0.9" />
<rect x="471.3" y="472.3" width="23.1" height="66.94" fill="#fff" stroke="#333" stroke-width="1" />
<line x1="482.85" y1="539.24" x2="482.85" y2="546.04" stroke="#555" stroke-width="0.9" />
<line x1="480.35" y1="546.04" x2="485.35" y2="546.04" stroke="#555" stroke-width="0.9" />
<line x1="548" y1="335" x2="548" y2="577.2" stroke="#777" stroke-width="1.7" />
<line x1="543.7" y1="576.9" x2="548" y2="576.9" stroke="#111" stroke-width="1" />
<text x="540.4" y="579.5" font-size="8.7" text-anchor="end" fill="#111" >-80</text>
<line x1="543.7" y1="550.75" x2="548" y2="550.75" stroke="#111" stroke-width="1" />
<text x="540.4" y="553.35" font-size="8.7" text-anchor="end" fill="#111" >-60</text>
<line x1="543.7" y1="524.6" x2="548" y2="524.6" stroke="#111" stroke-width="1" />
<text x="540.4" y="527.2" font-size="8.7" text-anchor="end" fill="#111" >-40</text>
<line x1="543.7" y1="498.45" x2="548" y2="498.45" stroke="#111" stroke-width="1" />
<text x="540.4" y="501.05" font-size="8.7" text-anchor="end" fill="#111" >-20</text>
<line x1="543.7" y1="472.3" x2="548" y2="472.3" stroke="#111" stroke-width="1" />
<text x="540.4" y="474.9" font-size="8.7" text-anchor="end" fill="#111" >0</text>
<line x1="543.7" y1="446.15" x2="548" y2="446.15" stroke="#111" stroke-width="1" />
<text x="540.4" y="448.75" font-size="8.7" text-anchor="end" fill="#111" >20</text>
<line x1="543.7" y1="420" x2="548" y2="420" stroke="#111" stroke-width="1" />
<text x="540.4" y="422.6" font-size="8.7" text-anchor="end" fill="#111" >40</text>
<line x1="543.7" y1="393.85" x2="548" y2="393.85" stroke="#111" stroke-width="1" />
<text x="540.4" y="396.45" font-size="8.7" text-anchor="end" fill="#111" >60</text>
<line x1="543.7" y1="367.7" x2="548" y2="367.7" stroke="#111" stroke-width="1" />
<text x="540.4" y="370.3" font-size="8.7" text-anchor="end" fill="#111" >80</text>
<line x1="543.7" y1="341.55" x2="548" y2="341.55" stroke="#111" stroke-width="1" />
<text x="540.4" y="344.15" font-size="8.7" text-anchor="end" fill="#111" >100</text>
<line x1="545.8" y1="563.83" x2="548" y2="563.83" stroke="#111" stroke-width="1" />
<line x1="545.8" y1="537.67" x2="548" y2="537.67" stroke="#111" stroke-width="1" />
<line x1="545.8" y1="511.53" x2="548" y2="511.53" stroke="#111" stroke-width="1" />
<line x1="545.8" y1="485.38" x2="548" y2="485.38" stroke="#111" stroke-width="1" />
<line x1="545.8" y1="459.23" x2="548" y2="459.23" stroke="#111" stroke-width="1" />
<line x1="545.8" y1="433.07" x2="548" y2="433.07" stroke="#111" stroke-width="1" />
<line x1="545.8" y1="406.93" x2="548" y2="406.93" stroke="#111" stroke-width="1" />
<line x1="545.8" y1="380.77" x2="548" y2="380.77" stroke="#111" stroke-width="1" />
<line x1="545.8" y1="354.62" x2="548" y2="354.62" stroke="#111" stroke-width="1" />
<line x1="548" y1="472.3" x2="639" y2="472.3" stroke="#111" stroke-width="1.2" />
<rect x="570.8" y="472.3" width="22.6" height="16.08" fill="#c0c0c0" stroke="#333" stroke-width="1" />
<line x1="582.1" y1="488.38" x2="582.1" y2="490.87" stroke="#555" stroke-width="0.9" />
<line x1="579.6" y1="490.87" x2="584.6" y2="490.87" stroke="#555" stroke-width="0.9" />
<rect x="593.4" y="455.83" width="23" height="16.47" fill="#fff" stroke="#333" stroke-width="1" />
<line x1="604.9" y1="455.83" x2="604.9" y2="452.95" stroke="#555" stroke-width="0.9" />
<line x1="602.4" y1="452.95" x2="607.4" y2="452.95" stroke="#555" stroke-width="0.9" />
<line x1="662.6" y1="335" x2="662.6" y2="577.2" stroke="#111" stroke-width="1.2" />
<line x1="658.3" y1="576.9" x2="662.6" y2="576.9" stroke="#111" stroke-width="1" />
<text x="655" y="579.5" font-size="8.7" text-anchor="end" fill="#111" >-80</text>
<line x1="658.3" y1="550.75" x2="662.6" y2="550.75" stroke="#111" stroke-width="1" />
<text x="655" y="553.35" font-size="8.7" text-anchor="end" fill="#111" >-60</text>
<line x1="658.3" y1="524.6" x2="662.6" y2="524.6" stroke="#111" stroke-width="1" />
<text x="655" y="527.2" font-size="8.7" text-anchor="end" fill="#111" >-40</text>
<line x1="658.3" y1="498.45" x2="662.6" y2="498.45" stroke="#111" stroke-width="1" />
<text x="655" y="501.05" font-size="8.7" text-anchor="end" fill="#111" >-20</text>
<line x1="658.3" y1="472.3" x2="662.6" y2="472.3" stroke="#111" stroke-width="1" />
<text x="655" y="474.9" font-size="8.7" text-anchor="end" fill="#111" >0</text>
<line x1="658.3" y1="446.15" x2="662.6" y2="446.15" stroke="#111" stroke-width="1" />
<text x="655" y="448.75" font-size="8.7" text-anchor="end" fill="#111" >20</text>
<line x1="658.3" y1="420" x2="662.6" y2="420" stroke="#111" stroke-width="1" />
<text x="655" y="422.6" font-size="8.7" text-anchor="end" fill="#111" >40</text>
<line x1="658.3" y1="393.85" x2="662.6" y2="393.85" stroke="#111" stroke-width="1" />
<text x="655" y="396.45" font-size="8.7" text-anchor="end" fill="#111" >60</text>
<line x1="658.3" y1="367.7" x2="662.6" y2="367.7" stroke="#111" stroke-width="1" />
<text x="655" y="370.3" font-size="8.7" text-anchor="end" fill="#111" >80</text>
<line x1="658.3" y1="341.55" x2="662.6" y2="341.55" stroke="#111" stroke-width="1" />
<text x="655" y="344.15" font-size="8.7" text-anchor="end" fill="#111" >100</text>
<line x1="660.4" y1="563.83" x2="662.6" y2="563.83" stroke="#111" stroke-width="1" />
<line x1="660.4" y1="537.67" x2="662.6" y2="537.67" stroke="#111" stroke-width="1" />
<line x1="660.4" y1="511.53" x2="662.6" y2="511.53" stroke="#111" stroke-width="1" />
<line x1="660.4" y1="485.38" x2="662.6" y2="485.38" stroke="#111" stroke-width="1" />
<line x1="660.4" y1="459.23" x2="662.6" y2="459.23" stroke="#111" stroke-width="1" />
<line x1="660.4" y1="433.07" x2="662.6" y2="433.07" stroke="#111" stroke-width="1" />
<line x1="660.4" y1="406.93" x2="662.6" y2="406.93" stroke="#111" stroke-width="1" />
<line x1="660.4" y1="380.77" x2="662.6" y2="380.77" stroke="#111" stroke-width="1" />
<line x1="660.4" y1="354.62" x2="662.6" y2="354.62" stroke="#111" stroke-width="1" />
<line x1="662.6" y1="472.3" x2="753.6" y2="472.3" stroke="#111" stroke-width="1.2" />
<rect x="684.4" y="472.3" width="23.3" height="84.99" fill="#c0c0c0" stroke="#333" stroke-width="1" />
<line x1="696.05" y1="557.29" x2="696.05" y2="563.3" stroke="#555" stroke-width="0.9" />
<line x1="693.55" y1="563.3" x2="698.55" y2="563.3" stroke="#555" stroke-width="0.9" />
<rect x="707.7" y="355.54" width="22.9" height="116.76" fill="#fff" stroke="#333" stroke-width="1" />
<line x1="719.15" y1="355.54" x2="719.15" y2="337.24" stroke="#555" stroke-width="0.9" />
<line x1="716.65" y1="337.24" x2="721.65" y2="337.24" stroke="#555" stroke-width="0.9" />
<line x1="425.5" y1="472.3" x2="517" y2="472.3" stroke="#111" stroke-width="1.2" />
<line x1="548" y1="472.3" x2="639" y2="472.3" stroke="#111" stroke-width="1.2" />
<line x1="662.6" y1="472.3" x2="753.6" y2="472.3" stroke="#111" stroke-width="1.2" />
<text transform="translate(400.9,479.6) rotate(-90)" x="0" y="0" font-size="17.5" text-anchor="start" fill="#111" >%</text>
<text x="438.9" y="586.2" font-size="13" text-anchor="start" fill="#000" font-weight="bold" textLength="70" lengthAdjust="spacingAndGlyphs" >Restitution</text>
<text x="456.1" y="603.7" font-size="13" text-anchor="start" fill="#000" font-weight="bold" textLength="35" lengthAdjust="spacingAndGlyphs" >slope</text>
<text x="582.4" y="598.7" font-size="14" text-anchor="start" fill="#000" font-weight="bold" textLength="27.8" lengthAdjust="spacingAndGlyphs" >ERP</text>
<text x="696.3" y="598.8" font-size="14" text-anchor="start" fill="#000" font-weight="bold" textLength="25.4" lengthAdjust="spacingAndGlyphs" >VFT</text>
<rect x="729.4" y="304.6" width="57" height="36.6" fill="#fff" stroke="#888" stroke-width="1" />
<rect x="732.2" y="309.5" width="30.5" height="10" fill="#c0c0c0" stroke="#333" stroke-width="1" />
<rect x="732.2" y="324.4" width="30.5" height="10.2" fill="#fff" stroke="#333" stroke-width="1" />
<text x="766.7" y="318.2" font-size="11" text-anchor="start" fill="#000" textLength="13.5" lengthAdjust="spacingAndGlyphs" >SS</text>
<text x="766.7" y="333.6" font-size="11" text-anchor="start" fill="#000" textLength="13.5" lengthAdjust="spacingAndGlyphs" >VS</text>
</svg>
</body></html>
